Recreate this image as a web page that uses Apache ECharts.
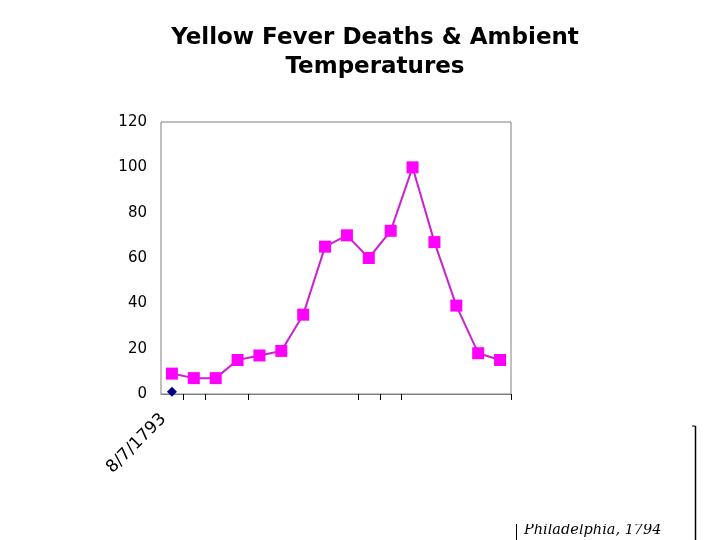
<!DOCTYPE html>
<html>
<head>
<meta charset="utf-8">
<script src="https://cdn.jsdelivr.net/npm/echarts@6/dist/echarts.min.js"></script>
<style>
  html, body { margin: 0; padding: 0; background: #fff; }
  #chart { width: 720px; height: 540px; }
</style>
</head>
<body>
<div id="chart"></div>
<script>
// 数据
const categories = [
  "8/7/1793", "8/14/1793", "8/21/1793", "8/28/1793", "9/4/1793", "9/11/1793",
  "9/18/1793", "9/25/1793", "10/2/1793", "10/9/1793", "10/16/1793", "10/23/1793",
  "10/30/1793", "11/6/1793", "11/13/1793", "11/20/1793"
];
const deaths = [9, 7, 7, 15, 17, 19, 35, 65, 70, 60, 72, 100, 67, 39, 18, 15];
const temperatures = [1, null, null, null, null, null, null, null, null, null, null, null, null, null, null, null];
const yTicks = [0, 20, 40, 60, 80, 100, 120];
const tickIdx = [1, 2, 4, 9, 10, 11, 16]; // Excel 日期轴上的不规则刻度

const chart = echarts.init(document.getElementById("chart"), null, { renderer: "canvas" });

const option = {
  animation: false,
  backgroundColor: "#fff",
  title: {
    text: "Yellow Fever Deaths & Ambient\nTemperatures",
    left: 370,
    top: 19,
    textAlign: "center",
    textStyle: {
      fontFamily: "DejaVu Sans",
      fontSize: 23,
      fontWeight: "bold",
      color: "#000",
      lineHeight: 29,
    },
  },
  grid: {
    left: 161,
    right: 209,
    top: 122,
    bottom: 146,
    show: true,
    borderColor: "#808080",
    borderWidth: 1,
    backgroundColor: "#fff",
  },
  xAxis: {
    type: "category",
    data: categories,
    boundaryGap: true,
    axisLine: { lineStyle: { color: "#808080", width: 1 } },
    axisTick: {
      show: true,
      length: 6,
      lineStyle: { color: "#000" },
      interval: (i) => tickIdx.includes(i),
    },
    axisLabel: {
      interval: (i) => i === 0,
      rotate: 45,
      margin: 14,
      padding: [0, 12, 0, 0],
      fontFamily: "DejaVu Sans",
      fontSize: 17,
      color: "#000",
    },
    splitLine: { show: false },
  },
  yAxis: {
    type: "value",
    min: yTicks[0],
    max: yTicks[yTicks.length - 1],
    interval: 20,
    axisLine: { show: false },
    axisTick: { show: false },
    splitLine: { show: false },
    axisLabel: {
      margin: 14,
      fontFamily: "DejaVu Sans",
      fontSize: 15,
      color: "#000",
    },
  },
  series: [
    {
      name: "Deaths",
      type: "line",
      data: deaths,
      symbol: "rect",
      symbolSize: 12,
      lineStyle: { color: "#cc22cc", width: 2 },
      itemStyle: { color: "#ff00ff" },
    },
    {
      name: "Temperature",
      type: "line",
      data: temperatures,
      symbol: "diamond",
      symbolSize: 10,
      lineStyle: { color: "#000080", width: 1.5 },
      itemStyle: { color: "#000080" },
    },
  ],
  graphic: [
    { type: "line", shape: { x1: 695.5, y1: 426, x2: 695.5, y2: 540 }, style: { stroke: "#000", lineWidth: 1.5 } },
    { type: "line", shape: { x1: 692, y1: 426, x2: 695.5, y2: 426 }, style: { stroke: "#000", lineWidth: 1 } },
    {
      type: "text",
      z: 10,
      style: {
        x: 524,
        y: 538,
        text: "Philadelphia, 1794",
        font: "italic 14.5px 'DejaVu Serif'",
        textVerticalAlign: "bottom",
        fill: "#000",
      },
    },
    // 文本框上边缘把文字顶部截掉
    { type: "rect", z: 20, shape: { x: 519, y: 505, width: 170, height: 19 }, style: { fill: "#fff" } },
    { type: "line", z: 30, shape: { x1: 516.5, y1: 524, x2: 516.5, y2: 540 }, style: { stroke: "#000", lineWidth: 1 } },
  ],
};

chart.setOption(option);
</script>
</body>
</html>
